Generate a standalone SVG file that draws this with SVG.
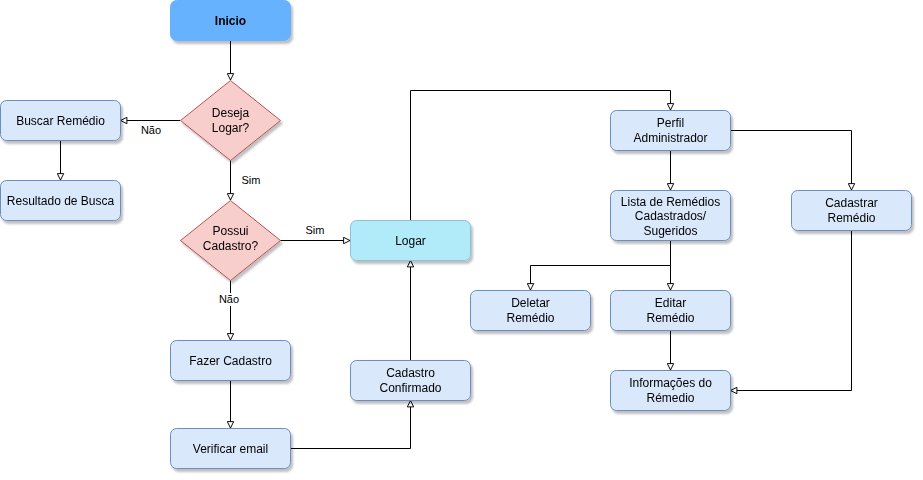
<svg xmlns="http://www.w3.org/2000/svg" width="923" height="480" viewBox="0 0 923 480">
<style>
.n{fill:#dae8fc;stroke:#6c8ebf;stroke-width:1}
.d{fill:#f8cecc;stroke:#b85450;stroke-width:1}
.t{font-family:"Liberation Sans",Arial,sans-serif;font-size:12px;fill:#000;text-anchor:middle}
.l{font-family:"Liberation Sans",Arial,sans-serif;font-size:11px;fill:#000;text-anchor:middle}
.e{fill:none;stroke:#000;stroke-width:1}
</style>
<defs>
<filter id="sh" x="-20%" y="-20%" width="150%" height="160%">
<feGaussianBlur in="SourceAlpha" stdDeviation="1.2"/>
<feOffset dx="2" dy="3" result="b"/>
<feComponentTransfer><feFuncA type="linear" slope="0.25"/></feComponentTransfer>
<feMerge><feMergeNode/><feMergeNode in="SourceGraphic"/></feMerge>
</filter>
<marker id="a" viewBox="0 0 10 10" refX="9" refY="5" markerWidth="8" markerHeight="8" markerUnits="userSpaceOnUse" orient="auto">
<path d="M1,1 L9,5 L1,9 Z" fill="#fff" stroke="#000" stroke-width="1.2"/>
</marker>
</defs>
<rect width="923" height="480" fill="#fff"/>
<g id="connectors">
<path class="e" d="M230.5,40 V80" marker-end="url(#a)"/>
<path class="e" d="M180,120.5 H120.5" marker-end="url(#a)"/>
<path class="e" d="M230.5,160 V200" marker-end="url(#a)"/>
<path class="e" d="M280,240.5 H350" marker-end="url(#a)"/>
<path class="e" d="M230.5,280 V340" marker-end="url(#a)"/>
<path class="e" d="M60.5,140 V180" marker-end="url(#a)"/>
<path class="e" d="M230.5,380 V428" marker-end="url(#a)"/>
<path class="e" d="M290,448.5 H410.5 V400.5" marker-end="url(#a)"/>
<path class="e" d="M410.5,360 V260.5" marker-end="url(#a)"/>
<path class="e" d="M410.5,220 V90.5 H670.5 V110" marker-end="url(#a)"/>
<path class="e" d="M670.5,150 V190" marker-end="url(#a)"/>
<path class="e" d="M730,130.5 H851.5 V190" marker-end="url(#a)"/>
<path class="e" d="M670.5,240 V265.5 H530.5 V290" marker-end="url(#a)"/>
<path class="e" d="M670.5,240 V290" marker-end="url(#a)"/>
<path class="e" d="M670.5,330 V370" marker-end="url(#a)"/>
<path class="e" d="M851.5,230 V390.5 H730.5" marker-end="url(#a)"/>
<text class="l" x="151" y="134">Não</text>
<text class="l" x="251" y="184">Sim</text>
<text class="l" x="315" y="234">Sim</text>
<rect x="217" y="293" width="24" height="13" fill="#fff"/>
<text class="l" x="229" y="303">Não</text>
</g>
<g id="inicio" filter="url(#sh)"><rect x="170.5" y="0.5" width="120" height="40" rx="6" fill="#66b2ff" stroke="#66b2ff"/><text class="t" x="230.5" y="24.5" font-weight="bold">Inicio</text></g>
<g id="deseja-logar" filter="url(#sh)"><path class="d" d="M230.5,80.5 L280.5,120.5 L230.5,160.5 L180.5,120.5 Z"/><text class="t" x="230.5" y="117">Deseja</text><text class="t" x="230.5" y="132">Logar?</text></g>
<g id="buscar" filter="url(#sh)"><rect class="n" x="0.5" y="100.5" width="120" height="40" rx="6"/><text class="t" x="60.5" y="124.5">Buscar Remédio</text></g>
<g id="resultado" filter="url(#sh)"><rect class="n" x="0.5" y="180.5" width="120" height="40" rx="6"/><text class="t" x="60.5" y="204.5">Resultado de Busca</text></g>
<g id="possui-cadastro" filter="url(#sh)"><path class="d" d="M230.5,200.5 L280.5,240.5 L230.5,280.5 L180.5,240.5 Z"/><text class="t" x="230.5" y="235">Possui</text><text class="t" x="230.5" y="250">Cadastro?</text></g>
<g id="logar" filter="url(#sh)"><rect x="350.5" y="220.5" width="120" height="40" rx="6" fill="#b1ebfa" stroke="#8fbfd6"/><text class="t" x="410.5" y="244.5">Logar</text></g>
<g id="fazer-cadastro" filter="url(#sh)"><rect class="n" x="170.5" y="340.5" width="120" height="40" rx="6"/><text class="t" x="230.5" y="364.5">Fazer Cadastro</text></g>
<g id="verificar-email" filter="url(#sh)"><rect class="n" x="170.5" y="428.5" width="120" height="40" rx="6"/><text class="t" x="230.5" y="452.5">Verificar email</text></g>
<g id="cadastro-confirmado" filter="url(#sh)"><rect class="n" x="350.5" y="360.5" width="120" height="40" rx="6"/><text class="t" x="410.5" y="377">Cadastro</text><text class="t" x="410.5" y="392">Confirmado</text></g>
<g id="perfil-admin" filter="url(#sh)"><rect class="n" x="610.5" y="110.5" width="120" height="40" rx="6"/><text class="t" x="670.5" y="127">Perfil</text><text class="t" x="670.5" y="142">Administrador</text></g>
<g id="lista" filter="url(#sh)"><rect class="n" x="610.5" y="190.5" width="120" height="50" rx="6"/><text class="t" x="670.5" y="206">Lista de Remédios</text><text class="t" x="670.5" y="220">Cadastrados/</text><text class="t" x="670.5" y="235">Sugeridos</text></g>
<g id="cadastrar-remedio" filter="url(#sh)"><rect class="n" x="791.5" y="190.5" width="120" height="40" rx="6"/><text class="t" x="851.5" y="207">Cadastrar</text><text class="t" x="851.5" y="222">Remédio</text></g>
<g id="deletar-remedio" filter="url(#sh)"><rect class="n" x="470.5" y="290.5" width="120" height="40" rx="6"/><text class="t" x="530.5" y="307">Deletar</text><text class="t" x="530.5" y="322">Remédio</text></g>
<g id="editar-remedio" filter="url(#sh)"><rect class="n" x="610.5" y="290.5" width="120" height="40" rx="6"/><text class="t" x="670.5" y="307">Editar</text><text class="t" x="670.5" y="322">Remédio</text></g>
<g id="informacoes" filter="url(#sh)"><rect class="n" x="610.5" y="370.5" width="120" height="40" rx="6"/><text class="t" x="670.5" y="387">Informações do</text><text class="t" x="670.5" y="402">Rémedio</text></g>
</svg>
